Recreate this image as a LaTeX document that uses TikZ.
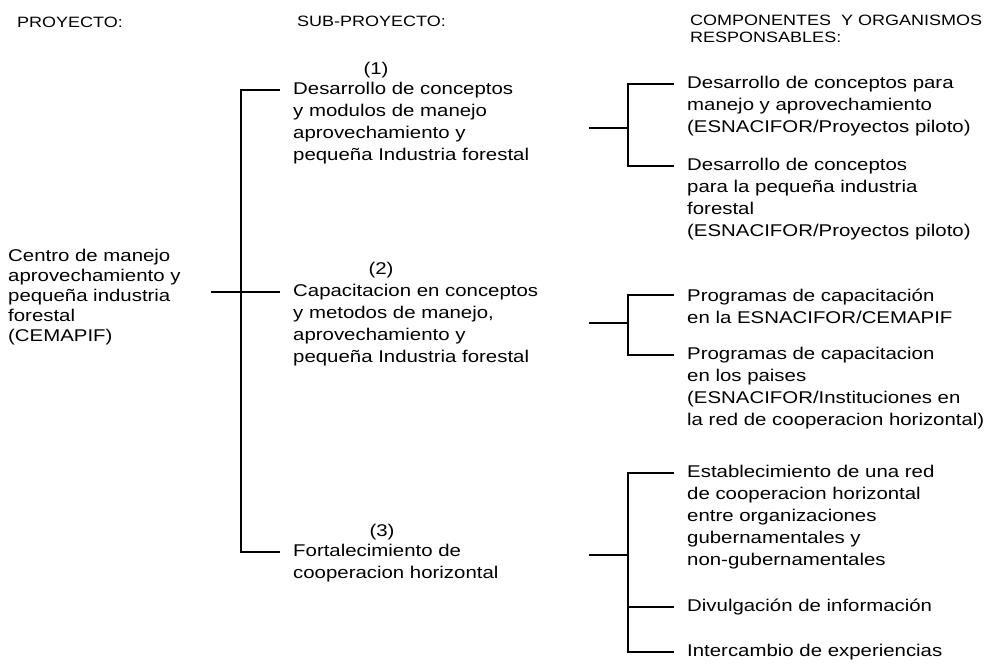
\documentclass[tikz,border=0pt]{standalone}
\usepackage{fontspec}
\setmainfont{Liberation Sans}[FakeStretch=1.2]
\usepackage{tikz}
\tikzset{txt/.style={align=left, anchor=west, inner xsep=13pt, inner ysep=0pt, font=\fontsize{17}{22}\selectfont},
  hdr/.style={align=left, anchor=west, inner sep=0pt, font=\fontsize{15}{17}\selectfont},
  num/.style={inner sep=0pt, font=\fontsize{17}{20}\selectfont},
  link/.style={line width=1.1pt}}

\begin{document}
\begin{tikzpicture}[x=1pt, y=-1pt]
\useasboundingbox (0,0) rectangle (991,665);
\node[hdr] (hproy) at (17,22) {PROYECTO:};
\node[hdr] (hsub) at (297,21) {SUB-PROYECTO:};
\node[hdr] (hcomp) at (690,29) {COMPONENTES\ \ Y ORGANISMOS\\RESPONSABLES:};

\node[txt, font=\fontsize{17}{20}\selectfont] (cemapif) at (-5,297) {Centro de manejo\\aprovechamiento y\\pequeña industria\\forestal\\(CEMAPIF)};

\node[txt] (sub1) at (280,123) {Desarrollo de conceptos\\y modulos de manejo\\aprovechamiento y\\pequeña Industria forestal};
\node[txt] (sub2) at (280,325) {Capacitacion en conceptos\\y metodos de manejo,\\aprovechamiento y\\pequeña Industria forestal};
\node[txt] (sub3) at (280,563) {Fortalecimiento de\\cooperacion horizontal};
\node[num] (n1) at (376,70) {(1)};
\node[num] (n2) at (381,270) {(2)};
\node[num] (n3) at (382,532) {(3)};

\node[txt] (c11) at (674,106) {Desarrollo de conceptos para\\manejo y aprovechamiento\\(ESNACIFOR/Proyectos piloto)};
\node[txt] (c12) at (674,199) {Desarrollo de conceptos\\para la pequeña industria\\forestal\\(ESNACIFOR/Proyectos piloto)};
\node[txt] (c21) at (674,306) {Programas de capacitación\\en la ESNACIFOR/CEMAPIF};
\node[txt] (c22) at (674,388) {Programas de capacitacion\\en los paises\\(ESNACIFOR/Instituciones en\\la red de cooperacion horizontal)};
\node[txt] (c31) at (674,517) {Establecimiento de una red\\de cooperacion horizontal\\entre organizaciones\\gubernamentales y\\non-gubernamentales};
\node[txt] (c32) at (674,607) {Divulgación de información};
\node[txt] (c33) at (674,652) {Intercambio de experiencias};

% proyecto -> sub-proyectos
\coordinate (c0) at (211,292);
\coordinate (j1) at (241,90);
\coordinate (j2) at (241,292);
\coordinate (j3) at (241,552);
\draw[link] (c0) -- (j2 -| sub2.west);
\draw[link] (j1 -| sub1.west) -- (j1) -- (j3) -- (j3 -| sub3.west);

% sub-proyectos -> componentes
\coordinate (g1) at (589,128);
\coordinate (k1a) at (628,84);
\coordinate (k1b) at (628,166);
\draw[link] (g1) -- (g1 -| k1a);
\draw[link] (c11.west |- k1a) -- (k1a) -- (k1b) -- (c12.west |- k1b);

\coordinate (g2) at (589,323);
\coordinate (k2a) at (628,295);
\coordinate (k2b) at (628,355);
\draw[link] (g2) -- (g2 -| k2a);
\draw[link] (c21.west |- k2a) -- (k2a) -- (k2b) -- (c22.west |- k2b);

\coordinate (g3) at (589,555);
\coordinate (k3a) at (628,473);
\coordinate (k3b) at (628,607);
\coordinate (k3c) at (628,652);
\draw[link] (g3) -- (g3 -| k3a);
\draw[link] (c31.west |- k3a) -- (k3a) -- (k3c) -- (c33.west |- k3c);
\draw[link] (k3b) -- (c32.west |- k3b);
\end{tikzpicture}
\end{document}
